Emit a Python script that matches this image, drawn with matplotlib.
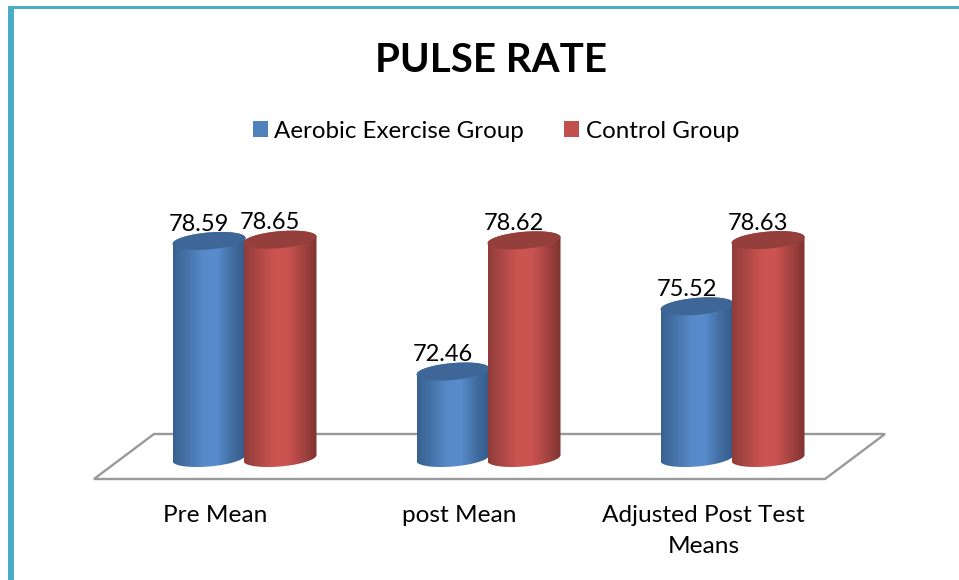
import numpy as np
import matplotlib
matplotlib.use("Agg")
import matplotlib.pyplot as plt
from matplotlib.colors import LinearSegmentedColormap
from matplotlib.patches import Patch, PathPatch, Polygon, Rectangle
from matplotlib.path import Path

categories = ["Pre Mean", "post Mean", "Adjusted Post Test\nMeans"]
aerobic = [78.59, 72.46, 75.52]
control = [78.65, 78.62, 78.63]
series_names = ["Aerobic Exercise Group", "Control Group"]
title = "PULSE RATE"

W, H = 959, 580
plt.rcParams["font.family"] = ["Lato", "DejaVu Sans"]
fig = plt.figure(figsize=(W / 100, H / 100), dpi=100, facecolor="white")

# axes: bottom edge at pixel row 490, scale 244 px per category, 21.3 px per unit
AX_BOTTOM = 490
ax = fig.add_axes([0, 1 - AX_BOTTOM / H, 1, AX_BOTTOM / H])
ax.set_facecolor("none")
PX_X, PX_Y = 244.0, 21.3
BASE = 68.4
BASE_ROW = 458
x0_px = 244.5
ax_xlim = (-x0_px / PX_X, (W - x0_px) / PX_X)
ax_ylim = (BASE - (AX_BOTTOM - BASE_ROW) / PX_Y, BASE + BASE_ROW / PX_Y)


def px(x, y):
    return (x / W, 1 - y / H)


# frame lines and chart floor (figure furniture, in pixel positions)
border = "#4bacc6"
fig.add_artist(Rectangle(px(8, 580), 6 / W, 574 / H, transform=fig.transFigure, color=border, lw=0))
fig.add_artist(Rectangle(px(8, 9), 951 / W, 3 / H, transform=fig.transFigure, color=border, lw=0))
floor = Polygon([px(94, 479), px(825, 479), px(885, 434), px(154, 434)], closed=True,
                transform=fig.transFigure, fill=False, ec="#999999", lw=1.7, zorder=0)
fig.add_artist(floor)

HALF_W = 36.5 / PX_X
HALF_H = 8.5 / PX_Y
TILT = 3.0 / PX_Y
OFFSET = 35.5 / PX_X


def ellipse_pts(xc, yc, t):
    return xc + HALF_W * np.cos(t), yc + HALF_H * np.sin(t) + TILT * np.cos(t)


blue_cm = LinearSegmentedColormap.from_list("b", ["#38618f", "#4673a8", "#5689c8", "#598ccd", "#436fa3", "#345a88"])
red_cm = LinearSegmentedColormap.from_list("r", ["#8f3c3a", "#ad4845", "#cb5451", "#cc5452", "#a54441", "#7f3331"])
grad = np.linspace(0, 1, 256).reshape(1, -1)


def cylinder(xc, value, cmap, lid, z):
    t_low = np.linspace(np.pi, 2 * np.pi, 60)
    t_top = np.linspace(0, np.pi, 60)
    xb, yb = ellipse_pts(xc, BASE, t_low)
    xt, yt = ellipse_pts(xc, value, t_top)
    verts = np.r_[np.c_[xb, yb], np.c_[xt, yt], [[xb[0], yb[0]]]]
    body = PathPatch(Path(verts), transform=ax.transData, fc="none", ec="none")
    ax.add_patch(body)
    im = ax.imshow(grad, cmap=cmap, aspect="auto", interpolation="bilinear",
                   extent=(xc - HALF_W, xc + HALF_W, BASE - 1, value + 1), zorder=z)
    im.set_clip_path(body)
    t = np.linspace(0, 2 * np.pi, 120)
    xe, ye = ellipse_pts(xc, value, t)
    ax.fill(xe, ye, color=lid, lw=0, zorder=z + 0.1)


pos = np.arange(len(categories), dtype=float)
for i, (a, c) in enumerate(zip(aerobic, control)):
    cylinder(pos[i] - OFFSET, a, blue_cm, "#3e6797", 2)
    cylinder(pos[i] + OFFSET, c, red_cm, "#953f3c", 3)
    for xc, v in ((pos[i] - OFFSET, a), (pos[i] + OFFSET, c)):
        ax.annotate(f"{v:.2f}", (xc, v), xytext=(-7.5, 4.5), textcoords="offset points",
                    ha="center", va="bottom", fontsize=17, color="black", zorder=6)

ax.set_xlim(*ax_xlim)
ax.set_ylim(*ax_ylim)
ax.set_xticks(pos - 29 / PX_X, categories, fontsize=17.6, color="black", linespacing=1.6)
ax.tick_params(axis="x", length=0, pad=10.5)
ax.set_yticks([])
for s in ax.spines.values():
    s.set_visible(False)

fig.text(491 / W, 1 - 61 / H, title, ha="center", va="center", fontsize=29, fontweight="bold", color="black")

handles = [Patch(fc="#4f81bd", ec="none"), Patch(fc="#c0504d", ec="none")]
fig.legend(handles, series_names, ncol=2, loc="center", bbox_to_anchor=(496 / W, 1 - 131 / H),
           frameon=False, fontsize=17.4, handlelength=0.62, handleheight=0.62,
           handletextpad=0.28, columnspacing=1.65, labelcolor="black")

fig.savefig("out.png", dpi=100)
